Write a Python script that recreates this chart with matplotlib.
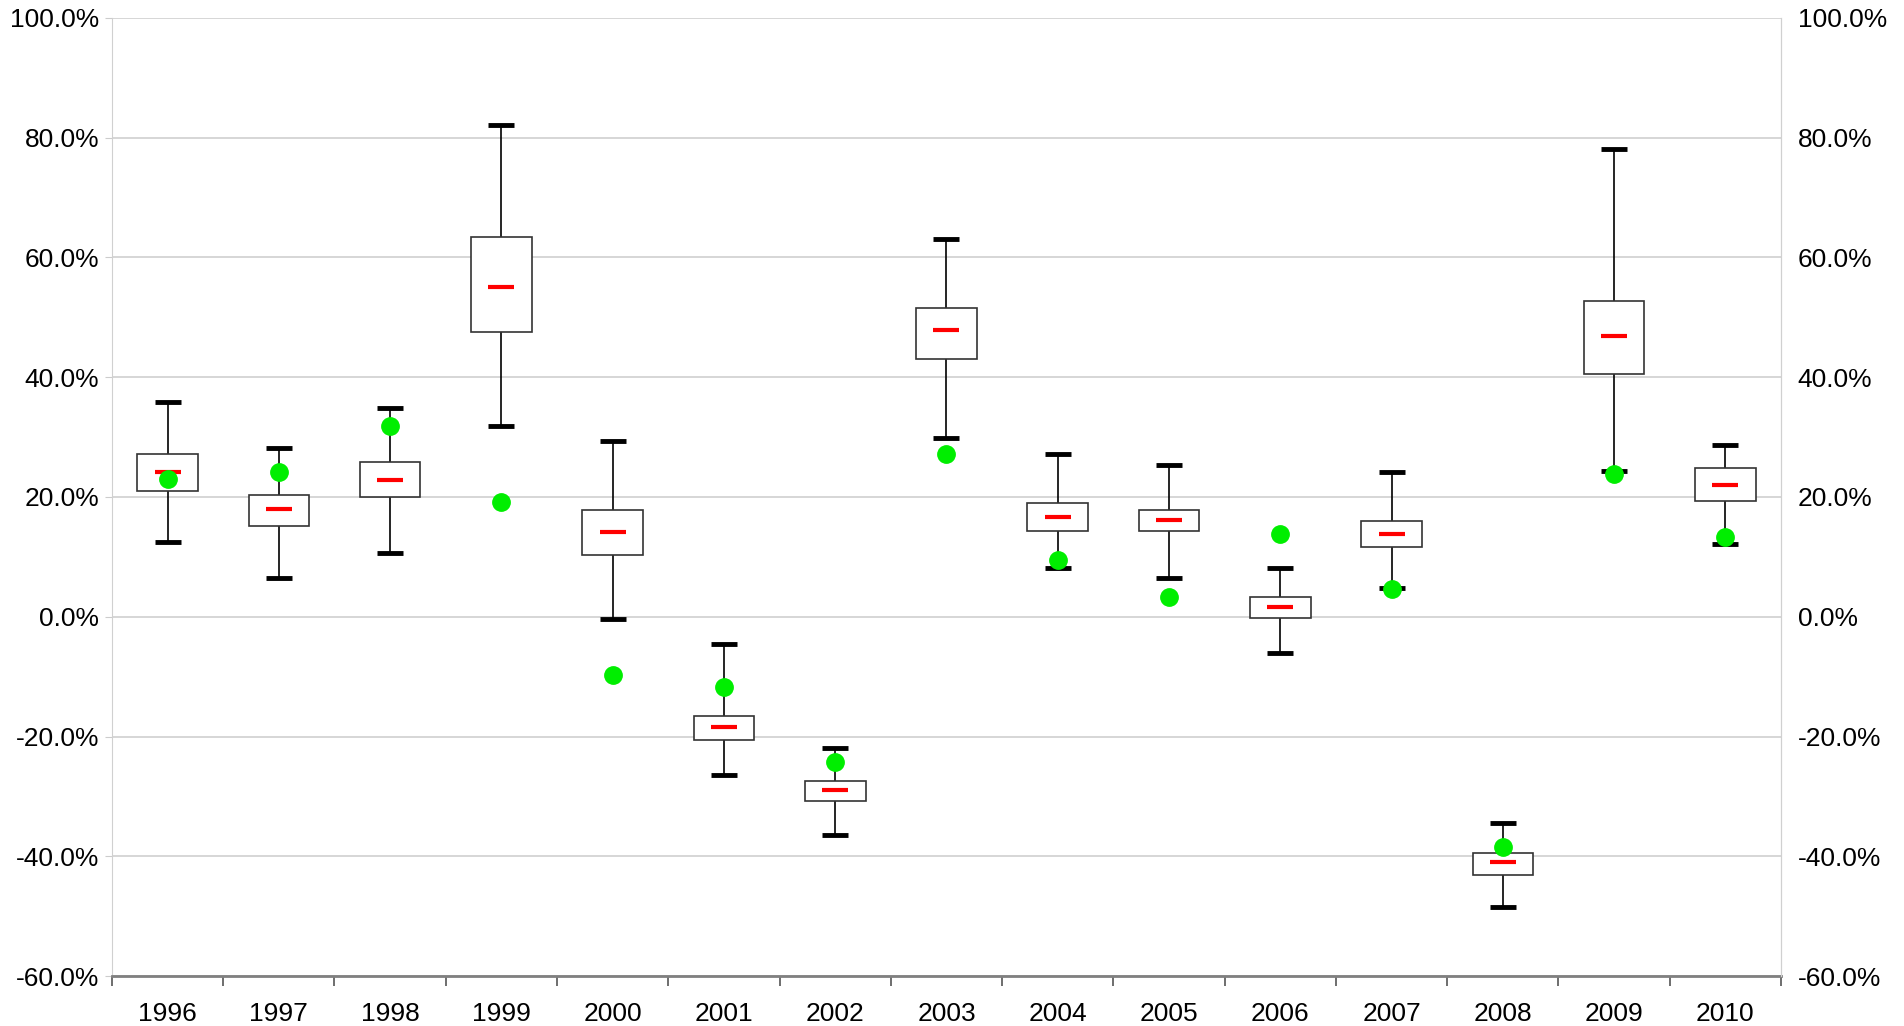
import numpy as np
import matplotlib
matplotlib.use('Agg')
import matplotlib.pyplot as plt
from matplotlib.ticker import PercentFormatter, FixedLocator

years = ['1996', '1997', '1998', '1999', '2000', '2001', '2002', '2003',
         '2004', '2005', '2006', '2007', '2008', '2009', '2010']
whisk_hi = [35.9, 28.1, 34.8, 82.2, 29.3, -4.5, -21.9, 63.1, 27.1, 25.3, 8.2, 24.1, -34.5, 78.1, 28.7]
box_hi = [27.1, 20.4, 25.9, 63.5, 17.8, -16.6, -27.4, 51.6, 19.0, 17.8, 3.3, 16.0, -39.4, 52.8, 24.9]
median = [24.1, 18.0, 22.8, 55.0, 14.1, -18.4, -29.0, 47.9, 16.6, 16.1, 1.7, 13.9, -41.0, 46.9, 22.0]
box_lo = [21.0, 15.1, 20.0, 47.5, 10.3, -20.6, -30.8, 43.1, 14.3, 14.3, -0.2, 11.7, -43.2, 40.6, 19.4]
whisk_lo = [12.5, 6.4, 10.7, 31.8, -0.4, -26.4, -36.5, 29.9, 8.2, 6.4, -6.1, 4.8, -48.5, 24.4, 12.1]
actual = [23.0, 24.1, 31.8, 19.2, -9.7, -11.8, -24.3, 27.1, 9.5, 3.3, 13.9, 4.6, -38.4, 23.8, 13.3]

plt.rc('font', size=19, family='Liberation Sans')
plt.rcParams['axes.unicode_minus'] = False

fig = plt.figure(figsize=(19.04, 10.26), dpi=100)
ax = fig.add_axes([0.0588, 0.0487, 0.8766, 0.9338])
x = np.arange(len(years))

# whiskers, boxes, caps, medians, actual values
ax.vlines(x, whisk_lo, box_lo, color='black', lw=1.2, zorder=2)
ax.vlines(x, box_hi, whisk_hi, color='black', lw=1.2, zorder=2)
ax.bar(x, np.array(box_hi) - np.array(box_lo), bottom=box_lo, width=0.545,
       facecolor='white', edgecolor='#333333', lw=1.2, zorder=3)
ax.plot(x, whisk_hi, ls='none', marker='_', ms=19, mew=3.5, color='black', zorder=4)
ax.plot(x, whisk_lo, ls='none', marker='_', ms=19, mew=3.5, color='black', zorder=4)
ax.plot(x, median, ls='none', marker='_', ms=19, mew=3, color='#ff0000', zorder=5)
ax.plot(x, actual, ls='none', marker='o', ms=12.5, color='#00ee00', mec='#00ee00', zorder=6)

ax.set_xlim(-0.5, len(years) - 0.5)
ax.set_ylim(-60, 100)
ax.set_yticks(np.arange(-60, 101, 20))
ax.yaxis.set_major_formatter(PercentFormatter(decimals=1))
ax.grid(axis='y', color='#d0d0d0', lw=1.2)
ax.set_axisbelow(True)

ax.set_xticks(x)
ax.set_xticklabels(years)
ax.xaxis.set_minor_locator(FixedLocator(np.arange(-0.5, len(years), 1.0)))
ax.tick_params(axis='x', which='major', length=0, pad=19)
ax.tick_params(axis='x', which='minor', length=7, width=1.2, color='#555555')
ax.tick_params(axis='y', length=5, color='#cccccc', pad=4)

ax.spines['top'].set_visible(False)
ax.spines['left'].set_color('#d0d0d0')
ax.spines['right'].set_color('#d0d0d0')
ax.spines['bottom'].set_color('#808080')
ax.spines['bottom'].set_linewidth(2)

ax2 = ax.twinx()
ax2.set_ylim(-60, 100)
ax2.set_yticks(np.arange(-60, 101, 20))
ax2.yaxis.set_major_formatter(PercentFormatter(decimals=1))
ax2.tick_params(axis='y', length=0, pad=12)
for s in ['top', 'left', 'bottom']:
    ax2.spines[s].set_visible(False)
ax2.spines['right'].set_color('#d0d0d0')

fig.savefig('out.png', dpi=100)
